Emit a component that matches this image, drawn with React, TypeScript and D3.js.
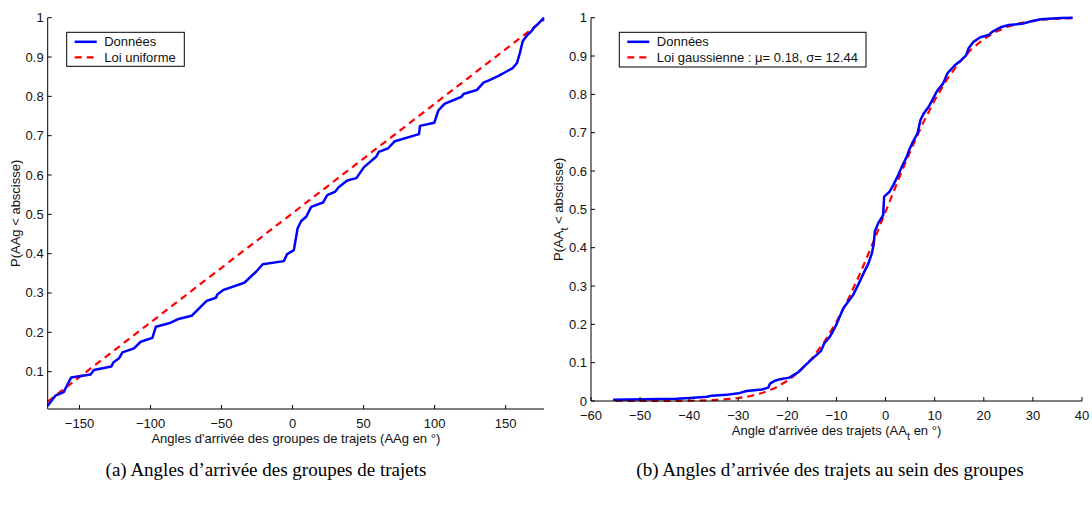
import * as d3 from 'd3';

const groupAngles = [
  -172.4, -167, -161.1, -158.7, -155.9, -142.2, -139.9, -127.6, -126.2, -122.2,
  -119.8, -111.7, -106.9, -98.7, -96.3, -86.9, -81, -71.1, -65.8, -60.5,
  -54, -52.8, -48.5, -34, -25.7, -21, -6.2, -3.8, 0.9, 3.5,
  6.1, 9.6, 13.1, 21.4, 24.4, 30.1, 32.4, 38.5, 44.9, 50.3,
  59, 60.7, 67.3, 72, 89, 89.7, 99.8, 102.6, 106.9, 119,
  120.3, 129.7, 134.4, 139, 145, 150, 155, 158, 160, 162,
  165, 168, 170, 173, 177,
];
const groupProb = [
  0.013, 0.039, 0.048, 0.066, 0.085, 0.093, 0.104, 0.113, 0.123, 0.134,
  0.149, 0.159, 0.176, 0.186, 0.214, 0.223, 0.233, 0.242, 0.261, 0.28,
  0.288, 0.297, 0.308, 0.326, 0.354, 0.373, 0.381, 0.399, 0.409, 0.464,
  0.483, 0.494, 0.519, 0.53, 0.549, 0.558, 0.569, 0.586, 0.592, 0.62,
  0.647, 0.659, 0.668, 0.686, 0.704, 0.725, 0.733, 0.764, 0.781, 0.799,
  0.806, 0.816, 0.835, 0.842, 0.852, 0.862, 0.872, 0.885, 0.91, 0.94,
  0.955, 0.965, 0.975, 0.985, 1.0,
];
const uniformAngles = [-172.4, 177];
const uniformProb = [0.024, 0.995];

// Right panel: path arrival angles (AAt)
const pathAngles = [
  -55.5, -42.6, -39.8, -36.4, -35.4, -32.4, -30, -28.3, -25.2, -23.9,
  -23.5, -22.5, -21.5, -19.6, -17.8, -16.7, -15.6, -14.5, -13.2, -12.5,
  -11.5, -10.8, -10, -9.5, -9, -8.6, -6.6, -5.6, -4.5, -3.5,
  -2.8, -2.4, -2.2, -1.5, -0.5, -0.3, 0.8, 1.6, 2.6, 3.3,
  4.3, 4.8, 5.4, 6.5, 7.1, 7.8, 8.8, 9.5, 10.5, 11.7,
  12.6, 14.1, 15.4, 16.4, 16.9, 17.9, 19.3, 21, 21.7, 23.4,
  25.1, 27.8, 29.5, 31.6, 35.7, 38.1,
];
const pathProb = [
  0.003, 0.006, 0.008, 0.011, 0.014, 0.016, 0.02, 0.026, 0.03, 0.035,
  0.046, 0.053, 0.057, 0.061, 0.075, 0.089, 0.102, 0.115, 0.13, 0.15,
  0.165, 0.18, 0.2, 0.215, 0.23, 0.242, 0.277, 0.303, 0.333, 0.359,
  0.385, 0.411, 0.442, 0.464, 0.485, 0.533, 0.546, 0.564, 0.59, 0.611,
  0.637, 0.655, 0.672, 0.698, 0.733, 0.751, 0.768, 0.785, 0.809, 0.828,
  0.855, 0.876, 0.889, 0.902, 0.92, 0.937, 0.949, 0.955, 0.963, 0.975,
  0.981, 0.984, 0.99, 0.996, 0.999, 1.0,
];
const gaussAngles = [
  -55, -45, -40, -35, -30, -27.5, -25, -22.5, -20, -17.5,
  -15, -12.5, -10, -7.5, -5, -2.5, 0, 2.5, 5, 7.5,
  10, 12.5, 15, 17.5, 20, 22.5, 25, 27.5, 30, 32.5,
  35, 38,
];
const gaussProb = [
  0.0, 0.0001, 0.0006, 0.0023, 0.0076, 0.013, 0.0215, 0.034, 0.0524, 0.0776,
  0.111, 0.154, 0.2067, 0.2685, 0.3386, 0.4148, 0.4942, 0.5739, 0.6508, 0.7217,
  0.785, 0.839, 0.8832, 0.9181, 0.9444, 0.9636, 0.977, 0.986, 0.9917, 0.9953,
  0.9974, 0.9988,
];

const leftXTicks = [-150, -100, -50, 0, 50, 100, 150];
const leftYTicks = [0.1, 0.2, 0.3, 0.4, 0.5, 0.6, 0.7, 0.8, 0.9, 1];
const rightXTicks = [-60, -50, -40, -30, -20, -10, 0, 10, 20, 30, 40];
const rightYTicks = [0, 0.1, 0.2, 0.3, 0.4, 0.5, 0.6, 0.7, 0.8, 0.9, 1];

const SANS = '"Liberation Sans", Arial, Helvetica, sans-serif';
const SERIF = '"Liberation Serif", "Times New Roman", serif';

const fmt = (v: number) => (v < 0 ? '\u2212' + Math.abs(v) : String(v));

type Pt = [number, number];
const zip = (a: number[], b: number[]): Pt[] => a.map((v, i) => [v, b[i]]);

interface PanelProps {
  x0: number; x1: number; y0: number; y1: number;
  xDomain: [number, number]; yDomain: [number, number];
  xTicks: number[]; yTicks: number[];
  data: Pt[]; model: Pt[];
  xLabel: React.ReactNode; yLabel: React.ReactNode;
  legendBox: { x: number; y: number; w: number; h: number };
  modelName: React.ReactNode;
}

function Panel(p: PanelProps) {
  const x = d3.scaleLinear().domain(p.xDomain).range([p.x0, p.x1]);
  const y = d3.scaleLinear().domain(p.yDomain).range([p.y1, p.y0]);
  const line = d3.line<Pt>().x(d => x(d[0])).y(d => y(d[1]));
  const lb = p.legendBox;
  return (
    <g>
      <path d={line(p.model) || ''} fill="none" stroke="#ff0000" strokeWidth={2.2}
        strokeDasharray="7 5" />
      <path d={line(p.data) || ''} fill="none" stroke="#0000ff" strokeWidth={2.5}
        strokeLinejoin="round" />
      {/* axes */}
      <line x1={p.x0} x2={p.x0} y1={p.y0} y2={p.y1} stroke="#000" strokeWidth={1} />
      <line x1={p.x0} x2={p.x1} y1={p.y1} y2={p.y1} stroke="#000" strokeWidth={1} />
      {p.xTicks.map(t => (
        <g key={'x' + t}>
          <line x1={x(t)} x2={x(t)} y1={p.y1} y2={p.y1 - 4} stroke="#000" />
          <text x={x(t)} y={p.y1 + 19} textAnchor="middle" fontSize={13}
            fontFamily={SANS} fill="#111">{fmt(t)}</text>
        </g>
      ))}
      {p.yTicks.map(t => (
        <g key={'y' + t}>
          <line x1={p.x0} x2={p.x0 + 4} y1={y(t)} y2={y(t)} stroke="#000" />
          <text x={p.x0 - 4} y={y(t) + 4.5} textAnchor="end" fontSize={13}
            fontFamily={SANS} fill="#111">{fmt(t)}</text>
        </g>
      ))}
      <text x={(p.x0 + p.x1) / 2} y={p.y1 + 34} textAnchor="middle" fontSize={13}
        fontFamily={SANS} fill="#111">{p.xLabel}</text>
      <text transform={`translate(${p.x0 - 28},${(p.y0 + p.y1) / 2}) rotate(-90)`}
        textAnchor="middle" fontSize={13} fontFamily={SANS} fill="#111">{p.yLabel}</text>
      {/* legend */}
      <rect x={lb.x} y={lb.y} width={lb.w} height={lb.h} fill="#fff" stroke="#000" strokeWidth={1} />
      <line x1={lb.x + 8} x2={lb.x + 30} y1={lb.y + 9.5} y2={lb.y + 9.5} stroke="#0000ff" strokeWidth={2.5} />
      <line x1={lb.x + 8} x2={lb.x + 30} y1={lb.y + 25} y2={lb.y + 25} stroke="#ff0000" strokeWidth={2.2}
        strokeDasharray="7 5" />
      <text x={lb.x + 37.5} y={lb.y + 14} fontSize={13} fontFamily={SANS} fill="#111">Données</text>
      <text x={lb.x + 37.5} y={lb.y + 29.5} fontSize={13} fontFamily={SANS} fill="#111">{p.modelName}</text>
    </g>
  );
}

export default function App() {
  return (
    <svg width={1092} height={512} viewBox="0 0 1092 512"
      style={{ position: 'absolute', left: 0, top: 0, background: '#fff' }}>
      <rect width={1092} height={512} fill="#fff" />
      <Panel
        x0={47.7} x1={544} y0={17.7} y1={409}
        xDomain={[-172.4, 177]} yDomain={[0.005, 1]}
        xTicks={leftXTicks} yTicks={leftYTicks}
        data={zip(groupAngles, groupProb)} model={zip(uniformAngles, uniformProb)}
        xLabel="Angles d'arrivée des groupes de trajets (AAg en °)"
        yLabel="P(AAg < abscisse)"
        legendBox={{ x: 66.7, y: 32.3, w: 117.6, h: 34 }}
        modelName="Loi uniforme"
      />
      <Panel
        x0={591} x1={1082} y0={17.7} y1={401}
        xDomain={[-60, 40]} yDomain={[0, 1]}
        xTicks={rightXTicks} yTicks={rightYTicks}
        data={zip(pathAngles, pathProb)} model={zip(gaussAngles, gaussProb)}
        xLabel={<>Angle d'arrivée des trajets (AA<tspan dy={5} fontSize={11}>t</tspan><tspan dy={-5}> en °)</tspan></>}
        yLabel={<>P(AA<tspan dy={5} fontSize={11}>t</tspan><tspan dy={-5}> &lt; abscisse)</tspan></>}
        legendBox={{ x: 619.3, y: 32.3, w: 246.7, h: 34.7 }}
        modelName="Loi gaussienne : μ= 0.18, σ= 12.44"
      />
      <text x={266} y={476} textAnchor="middle" fontSize={19} fontFamily={SERIF} fill="#000">
        (a) Angles d’arrivée des groupes de trajets
      </text>
      <text x={830} y={476} textAnchor="middle" fontSize={19} fontFamily={SERIF} fill="#000">
        (b) Angles d’arrivée des trajets au sein des groupes
      </text>
    </svg>
  );
}
